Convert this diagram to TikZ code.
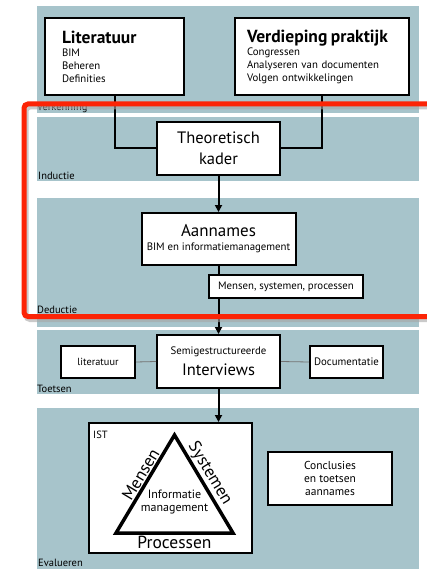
\documentclass[tikz,border=0pt]{standalone}
\usepackage{fontspec}
\setmainfont{PT Sans}
\usetikzlibrary{arrows.meta,positioning,calc}
\definecolor{bandblue}{RGB}{167,196,203}
\definecolor{framered}{RGB}{252,36,6}

\begin{document}
\begin{tikzpicture}[x=1pt,y=-1pt,
  font=\fontsize{10.8}{13}\selectfont,
  box/.style={draw, line width=2pt, fill=white, inner sep=2pt, align=center},
  lbl/.style={anchor=base west, inner sep=0pt, font=\fontsize{10.5}{11}\selectfont},
  big/.style={font=\fontsize{16.5}{21}\selectfont},
  conn/.style={line width=2pt},
  arr/.style={-{Triangle[width=7pt,length=7pt]}, line width=2pt},
  thinconn/.style={draw=black!55, line width=0.8pt}]

  \useasboundingbox (0,0) rectangle (427,569);

  % Phase bands (top to bottom)
  \fill[bandblue] (37,6)   rectangle (419,113);
  \fill[bandblue] (37,117) rectangle (419,181);
  \fill[bandblue] (37,198) rectangle (419,327);
  \fill[bandblue] (37,330) rectangle (419,394);
  \fill[bandblue] (37,408) rectangle (419,569);

  \node[lbl] (lverk) at (37,111) {Verkenning};
  \node[lbl] (lind)  at (38,180) {Inductie};
  \node[lbl] (lded)  at (37,313) {Deductie};
  \node[lbl] (ltoet) at (37,392) {Toetsen};
  \node[lbl] (leval) at (38,566) {Evalueren};

  % Source boxes
  \node[box, align=left, minimum width=139pt, minimum height=77pt, text width=105pt]
    (lit) at (114.5,56.5)
    {{\fontsize{17.5}{13}\selectfont\bfseries Literatuur}\\BIM\\Beheren\\Definities};
  \node[box, align=left, minimum width=174pt, minimum height=77pt, text width=150pt]
    (ver) at (322,56.5)
    {{\fontsize{17.5}{13}\selectfont\bfseries Verdieping praktijk}\\Congressen\\Analyseren van documenten\\Volgen ontwikkelingen};

  \node[box, big, minimum width=123pt, minimum height=53pt] (theo) at (218.5,148.5)
    {Theoretisch\\kader};

  \node[box, font=\fontsize{17}{14}\selectfont, minimum width=154pt, minimum height=52pt]
    (aann) at (218.5,239)
    {Aannames\\{\fontsize{10.8}{13}\selectfont BIM en informatiemanagement}};

  % Toetsen row
  \node[box, big, minimum width=123pt, minimum height=53pt] (semi) at (218.5,361.5)
    {{\fontsize{10.8}{13}\selectfont Semigestructureerde}\\Interviews};
  \node[box, font=\fontsize{10.3}{13}\selectfont, minimum width=74pt, minimum height=32pt]
    (litt) at (98,362) {literatuur};
  \node[box, font=\fontsize{10.8}{13}\selectfont, minimum width=73pt, minimum height=32pt, inner xsep=0pt]
    (doc) at (346.5,362) {Documentatie};

  % Evalueren
  \node[box, minimum width=163pt, minimum height=130pt] (istbox) at (170.5,488) {};
  \node[lbl] (ist) at (93,438) {IST};
  \node[box, font=\fontsize{11.5}{12.7}\selectfont, minimum width=124pt, minimum height=53pt]
    (concl) at (330,478.5) {Conclusies\\en toetsen\\aannames};

  \coordinate (apex) at (174.5,435);
  \coordinate (bl) at (116,533);
  \coordinate (br) at (233,533);
  \draw[line width=3.5pt] (apex) -- (bl) -- (br) -- cycle;
  \node[font=\fontsize{17}{18}\selectfont, rotate=59, anchor=south, inner sep=2.5pt]
    (mens) at ($(apex)!0.45!(bl)$) {Mensen};
  \node[font=\fontsize{17}{18}\selectfont, rotate=-59, anchor=south, inner sep=2.5pt]
    (sys) at ($(apex)!0.45!(br)$) {Systemen};
  \node[font=\fontsize{17.5}{18}\selectfont, anchor=north, inner sep=3pt]
    (proc) at ($(bl)!0.5!(br)$) {Processen};
  \node[align=center, font=\fontsize{12}{13}\selectfont] (info) at (174.5,502) {Informatie\\management};

  % Connectors
  \draw[conn] (lit.south) |- (theo.west);
  \draw[conn] (ver.south) |- (theo.east);
  \draw[arr] (theo.south) -- (aann.north);
  \draw[arr] (aann.south) -- (semi.north);
  \draw[arr] (semi.south) -- (semi.south |- istbox.north);
  \draw[thinconn] (litt.east) -- (semi.west);
  \draw[thinconn] (semi.east) -- (doc.west);

  \node[box, minimum width=154pt, minimum height=23pt] (mss) at (286,286.5)
    {Mensen, systemen, processen};

  % Highlight frame
  \draw[black!35, opacity=0.6, line width=5pt, rounded corners=4pt] (26,107) rectangle (447,319.5);
  \draw[framered, line width=5pt, rounded corners=4pt] (24,104) rectangle (445,316.5);
\end{tikzpicture}
\end{document}
